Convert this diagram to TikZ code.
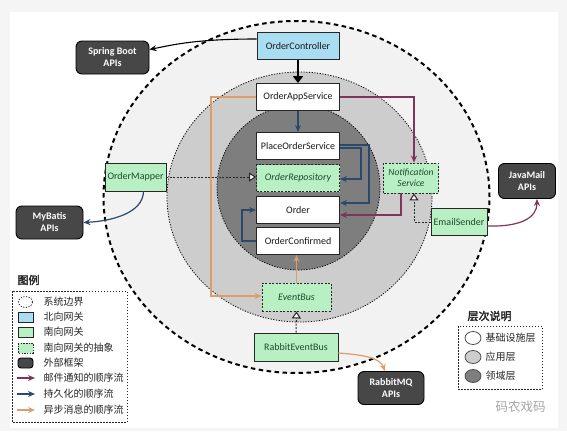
\documentclass[tikz,border=0pt]{standalone}
\usepackage{fontspec}
\setmainfont{Carlito}
\newfontfamily\cjk[AutoFakeBold=2.5]{Noto Sans CJK SC}
\usetikzlibrary{arrows.meta,calc}
\definecolor{bgout}{HTML}{F5F5F5}
\definecolor{ringA}{HTML}{F2F2F2}
\definecolor{ringB}{HTML}{CDCDCD}
\definecolor{ringC}{HTML}{7E7E7E}
\definecolor{nbl}{HTML}{A8DDF2}
\definecolor{sgr}{HTML}{B8F0C4}
\definecolor{extc}{HTML}{474747}
\definecolor{mail}{HTML}{7E3559}
\definecolor{pers}{HTML}{294A6B}
\definecolor{asyn}{HTML}{DE9C6A}
\definecolor{gtxt}{HTML}{1E4A2C}
\begin{document}
\begin{tikzpicture}[x=1pt,y=-1pt,
  box/.style={draw=black!85, line width=0.9pt, fill=white, minimum width=83pt, minimum height=27pt, inner sep=1pt, text=black!90, font=\fontsize{10}{12}\selectfont},
  nbox/.style={box, fill=nbl},
  gbox/.style={box, fill=sgr, text=gtxt},
  abox/.style={box, fill=sgr, text=gtxt, dash pattern=on 2pt off 1.5pt, font=\fontsize{10}{12}\selectfont\itshape},
  xbox/.style={draw=black, line width=0.9pt, fill=extc, rounded corners=6pt, text=white, font=\fontsize{10}{12}\selectfont\bfseries, align=center, inner sep=1pt},
  mailf/.style={draw=mail, line width=1.2pt, -{Stealth[length=7pt,width=6pt]}},
  persf/.style={draw=pers, line width=1.2pt, -{Stealth[length=7pt,width=6pt]}},
  asynf/.style={draw=asyn, line width=1.2pt, -{Stealth[length=7pt,width=6pt]}},
  realf/.style={draw=black!85, line width=1pt, dash pattern=on 2pt off 1.5pt, -{Triangle[open, fill=white, length=7pt, width=9pt]}},
  legt/.style={anchor=west, text=black!85, font=\cjk\fontsize{10}{12}\selectfont},
  legtitle/.style={anchor=west, text=black!85, font=\cjk\bfseries\fontsize{11}{13}\selectfont},
  legbox/.style={draw=black!85, line width=0.9pt, dash pattern=on 1.5pt off 1.5pt}
]
% background
\fill[bgout] (0,0) rectangle (567,431);
\fill[white] (10,12) rectangle (558,428);
\useasboundingbox (0,0) rectangle (567,431);

% layers
\draw[fill=ringA, line width=2pt, dash pattern=on 4.5pt off 3.5pt] (296.5,197) ellipse [x radius=193pt, y radius=176pt];
\draw[fill=ringB, line width=0.8pt, dash pattern=on 1.2pt off 1.5pt] (299.5,197) ellipse [x radius=132.5pt, y radius=125pt];
\draw[fill=ringC, line width=0.8pt, dash pattern=on 1.2pt off 1.5pt] (298.5,187.5) ellipse [x radius=81.5pt, y radius=82.5pt];

% nodes
\node[nbox, minimum width=82pt] (OC) at (298,46) {OrderController};
\node[box] (OAS) at (298,97) {OrderAppService};
\node[box] (POS) at (298,146) {PlaceOrderService};
\node[abox] (OR) at (298,178) {OrderRepository};
\node[box] (OD) at (298,210) {Order};
\node[box] (OCF) at (298,241) {OrderConfirmed};
\node[abox, minimum width=55pt, minimum height=30pt, align=center, font=\fontsize{9.5}{11}\selectfont\itshape] (NS) at (411,178) {Notification\\Service};
\node[gbox, minimum width=56pt] (ES) at (459,222) {EmailSender};
\node[xbox, minimum width=57pt, minimum height=35pt] (JM) at (527,181) {JavaMail\\APIs};
\node[gbox, minimum width=61pt, minimum height=28pt] (OM) at (135.5,177) {OrderMapper};
\node[xbox, minimum width=67pt, minimum height=33pt] (MB) at (49.5,222.5) {MyBatis\\APIs};
\node[xbox, minimum width=73pt, minimum height=33pt] (SB) at (112.5,57.5) {Spring Boot\\APIs};
\node[abox, minimum width=69pt, minimum height=28pt] (EB) at (296.5,297) {EventBus};
\node[gbox, minimum width=84pt, minimum height=28pt] (REB) at (296,347) {RabbitEventBus};
\node[xbox, minimum width=66pt, minimum height=33pt] (RMQ) at (391,388) {RabbitMQ\\APIs};

% connectors
\draw[black, line width=2.6pt, -{Triangle[length=7pt,width=10pt]}] (OC.south) -- (OAS.north);
\draw[black, line width=1.1pt, -{Stealth[length=7pt,width=6pt]}] ($(OC.west)+(0,-7)$) .. controls (195,39) and (172,45) .. ($(SB.east)+(0,-8)$);
\draw[persf] (OAS.south) -- (POS.north);
\draw[persf] ($(POS.east)+(0,-1)$) -| ($(OD.east)+(29,-7)$) -- ($(OD.east)+(0,-7)$);
\draw[persf] ($(POS.east)+(0,2)$) -| ($(OR.east)+(21,1)$) -- ($(OR.east)+(0,1)$);
\draw[persf] (OCF.west) -| ($(OD.west)+(-14,0)$) -- (OD.west);
\draw[mailf] (OAS.east) -| ($(NS.north)+(3,0)$);
\draw[mailf] ($(NS.south)+(-10,0)$) |- ($(OD.east)+(0,5)$);
\draw[mailf] ($(ES.east)+(0,4)$) .. controls (520,227) and (537,218) .. ($(JM.south)+(10,0)$);
\draw[realf] (ES.west) -| ($(NS.south)+(3,0)$);
\draw[realf] (OM.east) -- (OM.east -| OR.west);
\draw[persf] ($(OM.south)+(8,0)$) .. controls (143,213) and (112,221) .. (MB.east);
\draw[realf] (REB.north) -- (EB.south);
\draw[asynf] ($(REB.east)+(0,6)$) .. controls (365,355) and (380,358) .. ($(RMQ.north)+(-6,0)$);
\draw[asynf] (EB.north) -- (EB.north |- OCF.south);
\draw[asynf] (OAS.west) -- ++(-45,0) |- ($(EB.west)+(0,-1)$);

% legend
\node[legtitle] (LT) at (14,280) {图例};
\draw[legbox] (12,291) rectangle (127,422);
\draw[black!85, line width=0.8pt, dash pattern=on 1.2pt off 1.5pt] (25.5,302) ellipse [x radius=7pt, y radius=5.5pt];
\draw[black!85, line width=0.9pt, fill=nbl] (18,312) rectangle (33,322);
\draw[black!85, line width=0.9pt, fill=sgr] (18,327) rectangle (33,337);
\draw[black!85, line width=0.9pt, fill=sgr, dash pattern=on 1.5pt off 1.2pt] (18,343) rectangle (33,353);
\draw[black, line width=0.9pt, fill=extc, rounded corners=3pt] (18,358) rectangle (33,368);
\draw[mailf] (17,378) -- (35,378);
\draw[persf] (17,394) -- (35,394);
\draw[asynf] (17,410) -- (35,410);
\node[legt] at (40,302) {系统边界};
\node[legt] at (40,317) {北向网关};
\node[legt] at (40,332) {南向网关};
\node[legt] at (40,348) {南向网关的抽象};
\node[legt] at (40,363) {外部框架};
\node[legt] at (40,378) {邮件通知的顺序流};
\node[legt] at (40,394) {持久化的顺序流};
\node[legt] at (40,410) {异步消息的顺序流};

% layer legend
\node[legtitle] (LT2) at (464,316) {层次说明};
\draw[legbox] (458,326) rectangle (542,389);
\draw[black!70, line width=0.8pt, fill=white] (473,338) ellipse [x radius=8pt, y radius=6.5pt];
\draw[black!70, line width=0.8pt, fill=ringB] (473,357) ellipse [x radius=8pt, y radius=6.5pt];
\draw[black!70, line width=0.8pt, fill=ringC] (473,376) ellipse [x radius=8pt, y radius=6.5pt];
\node[legt] at (482,338) {基础设施层};
\node[legt] at (482,357) {应用层};
\node[legt] at (482,376) {领域层};

% watermark
\node[anchor=west, text=black!35, font=\cjk\fontsize{12.5}{14}\selectfont] (WM) at (492,407) {码农戏码};
\end{tikzpicture}
\end{document}
